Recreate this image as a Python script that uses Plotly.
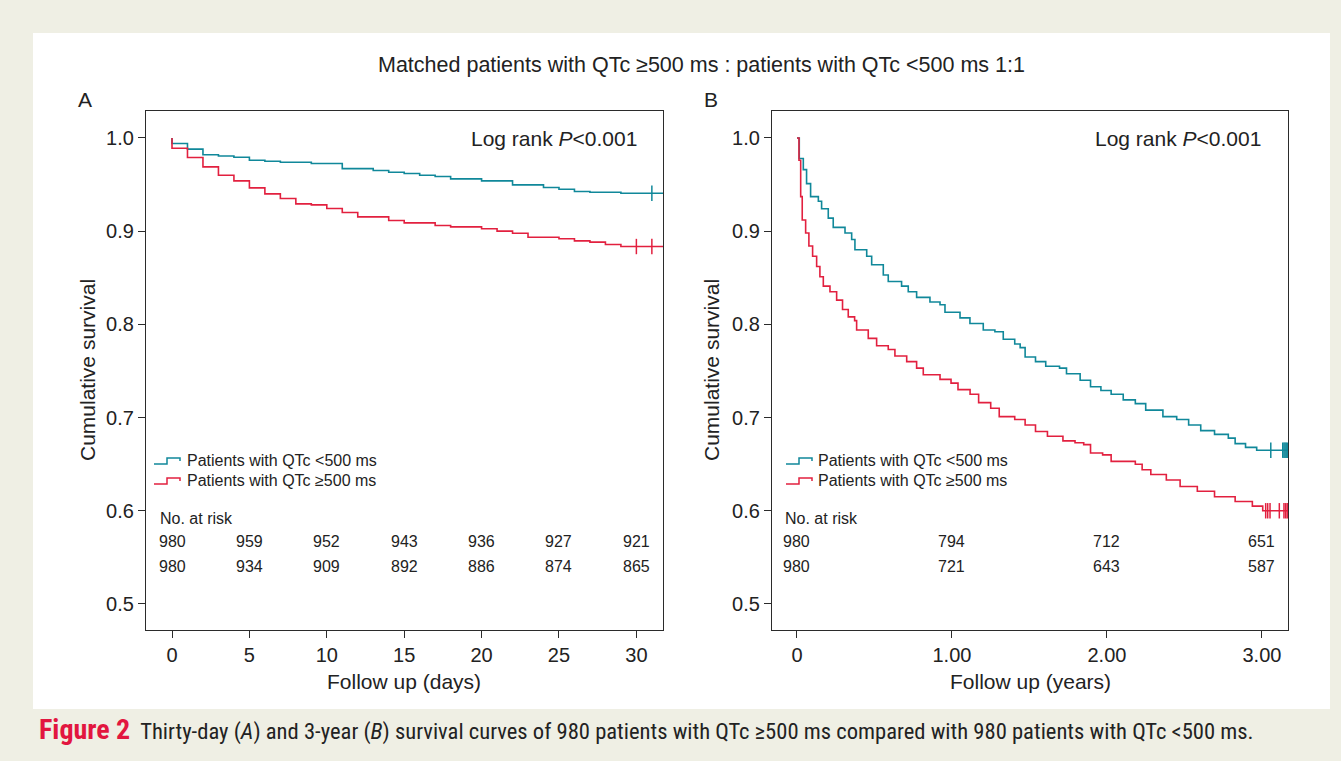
import plotly.graph_objects as go

# ---------------- data ----------------
# Panel A: 30-day Kaplan-Meier (days)
a_low_t = [0, 0, 1, 2, 3, 4, 5, 6, 7, 9, 11, 13, 14, 15, 16, 17, 18, 20, 22, 24, 25, 26, 27, 29, 32]
a_low_s = [1.0, 0.9940, 0.9880, 0.9820, 0.9807, 0.9793, 0.9761, 0.9750, 0.9739, 0.9725, 0.9671,
           0.9650, 0.9632, 0.9618, 0.9600, 0.9586, 0.9561, 0.9539, 0.9496, 0.9468, 0.9450,
           0.9425, 0.9418, 0.9407, 0.9407]
a_high_t = [0, 0, 1, 2, 3, 4, 5, 6, 7, 8, 9, 10, 11, 12, 14, 15, 17, 18, 20, 21, 22, 23, 25,
            26, 27, 28, 29, 32]
a_high_s = [1.0, 0.9890, 0.9790, 0.9690, 0.9600, 0.9539, 0.9464, 0.9400, 0.9350, 0.9293,
            0.9282, 0.9243, 0.9200, 0.9153, 0.9114, 0.9089, 0.9060, 0.9046, 0.9025, 0.9000,
            0.8978, 0.8935, 0.8918, 0.8896, 0.8882, 0.8857, 0.8835, 0.8835]
a_low_cens_t = [31]
a_high_cens_t = [30, 31]

# Panel B: 3-year Kaplan-Meier (years)
b_low_t = [0.000, 0.015, 0.041, 0.062, 0.088, 0.138, 0.159, 0.202, 0.234, 0.310, 0.353, 0.374,
           0.450, 0.482, 0.557, 0.589, 0.675, 0.718, 0.772, 0.858, 0.923, 0.955, 1.052, 1.116,
           1.202, 1.277, 1.331, 1.405, 1.440, 1.472, 1.539, 1.605, 1.694, 1.739, 1.827, 1.894,
           1.961, 2.027, 2.105, 2.183, 2.250, 2.361, 2.450, 2.527, 2.605, 2.694, 2.783, 2.827,
           2.894, 2.966, 3.200]
b_low_s = [1.000, 0.978, 0.966, 0.951, 0.937, 0.932, 0.924, 0.914, 0.904, 0.898, 0.891, 0.880,
           0.873, 0.864, 0.853, 0.846, 0.841, 0.835, 0.829, 0.824, 0.821, 0.813, 0.807, 0.801,
           0.794, 0.792, 0.784, 0.779, 0.775, 0.765, 0.760, 0.755, 0.753, 0.747, 0.740, 0.733,
           0.729, 0.725, 0.719, 0.715, 0.708, 0.701, 0.698, 0.692, 0.686, 0.682, 0.678, 0.672,
           0.668, 0.665, 0.665]
b_high_t = [0.000, 0.013, 0.024, 0.034, 0.056, 0.077, 0.101, 0.127, 0.148, 0.170, 0.213, 0.256,
            0.294, 0.331, 0.372, 0.385, 0.460, 0.514, 0.589, 0.632, 0.708, 0.772, 0.815, 0.923,
            0.994, 1.039, 1.117, 1.172, 1.250, 1.305, 1.405, 1.472, 1.539, 1.616, 1.716, 1.794,
            1.850, 1.894, 1.972, 2.027, 2.183, 2.227, 2.283, 2.383, 2.472, 2.583, 2.694, 2.827,
            2.938, 3.005, 3.200]
b_high_s = [1.000, 0.976, 0.937, 0.912, 0.898, 0.884, 0.873, 0.862, 0.851, 0.841, 0.835, 0.826,
            0.816, 0.808, 0.804, 0.794, 0.785, 0.777, 0.773, 0.766, 0.760, 0.753, 0.746, 0.741,
            0.737, 0.730, 0.725, 0.716, 0.710, 0.701, 0.698, 0.692, 0.685, 0.680, 0.675, 0.673,
            0.671, 0.662, 0.660, 0.653, 0.650, 0.644, 0.639, 0.633, 0.626, 0.621, 0.615, 0.610,
            0.605, 0.600, 0.600]
b_low_cens_t = [3.057, 3.134, 3.142, 3.149, 3.156, 3.163]
b_high_cens_t = [3.024, 3.037, 3.052, 3.112, 3.142, 3.153, 3.163]

a_risk_t = [0, 5, 10, 15, 20, 25, 30]
a_risk_low = [980, 959, 952, 943, 936, 927, 921]
a_risk_high = [980, 934, 909, 892, 886, 874, 865]
b_risk_t = [0, 1, 2, 3]
b_risk_low = [980, 794, 712, 651]
b_risk_high = [980, 721, 643, 587]

a_xticks = [0, 5, 10, 15, 20, 25, 30]
b_xticks = [0, 1, 2, 3]
b_xticklabels = ["0", "1.00", "2.00", "3.00"]
yticks = [0.5, 0.6, 0.7, 0.8, 0.9, 1.0]

label_low = "Patients with QTc <500 ms"
label_high = "Patients with QTc ≥500 ms"
title_text = "Matched patients with QTc ≥500 ms : patients with QTc <500 ms 1:1"

# ---------------- style ----------------
W, H = 1341, 761
TEAL = "#10889a"
RED = "#e2203f"
TXT = "#222222"
FRAME = "#2b2b2b"
FONT = "Liberation Sans, Arial, Helvetica, sans-serif"
NARROW = "Roboto Condensed, Liberation Sans Narrow, Arial Narrow, sans-serif"


def px(x):
    return x / W


def py(y):
    return 1 - y / H


fig = go.Figure()

for xa, ya, t, s, col in [
    ("x", "y", a_low_t, a_low_s, TEAL), ("x", "y", a_high_t, a_high_s, RED),
    ("x2", "y2", b_low_t, b_low_s, TEAL), ("x2", "y2", b_high_t, b_high_s, RED),
]:
    fig.add_trace(go.Scatter(x=t, y=s, mode="lines", line=dict(color=col, width=1.6, shape="hv"),
                             xaxis=xa, yaxis=ya, showlegend=False, hoverinfo="skip"))


def level_at(times, surv, tc):
    v = surv[0]
    for ti, si in zip(times, surv):
        if ti <= tc:
            v = si
    return v


for xa, ya, ct, t, s, col in [
    ("x", "y", a_low_cens_t, a_low_t, a_low_s, TEAL),
    ("x", "y", a_high_cens_t, a_high_t, a_high_s, RED),
    ("x2", "y2", b_low_cens_t, b_low_t, b_low_s, TEAL),
    ("x2", "y2", b_high_cens_t, b_high_t, b_high_s, RED),
]:
    fig.add_trace(go.Scatter(x=ct, y=[level_at(t, s, c) for c in ct], mode="markers",
                             marker=dict(symbol="line-ns", size=11, line=dict(color=col, width=1.5)),
                             xaxis=xa, yaxis=ya, showlegend=False, hoverinfo="skip", cliponaxis=False))

ydom = [py(630), py(111)]
axis_common = dict(showline=True, mirror=True, linecolor=FRAME, linewidth=1.3, ticks="outside",
                   ticklen=7, tickwidth=1.2, tickcolor=FRAME, showgrid=False, zeroline=False,
                   tickfont=dict(family=FONT, size=20, color=TXT))

fig.update_layout(
    width=W, height=H, margin=dict(l=0, r=0, t=0, b=0),
    paper_bgcolor="#efefe4", plot_bgcolor="white",
    xaxis=dict(domain=[px(146), px(663)], range=[-1.68, 31.72], tickvals=a_xticks, anchor="y",
               **axis_common),
    yaxis=dict(domain=ydom, range=[0.4721, 1.0289], tickvals=yticks, tickformat=".1f",
               anchor="x", **axis_common),
    xaxis2=dict(domain=[px(772), px(1288)], range=[-0.161, 3.168], tickvals=b_xticks,
                ticktext=b_xticklabels, anchor="y2", **axis_common),
    yaxis2=dict(domain=ydom, range=[0.4721, 1.0289], tickvals=yticks, tickformat=".1f",
                anchor="x2", **axis_common),
)

shapes = [dict(type="rect", xref="paper", yref="paper", x0=px(33), x1=px(1330), y0=py(709),
               y1=py(33), fillcolor="white", line=dict(width=0), layer="below")]


def glyph(x0, ylow, col):
    xm, x1 = x0 + 13, x0 + 26
    yh = ylow - 6
    ye = ylow - 3
    path = (f"M {px(x0)},{py(ylow)} L {px(xm)},{py(ylow)} L {px(xm)},{py(yh)} "
            f"L {px(x1)},{py(yh)} L {px(x1)},{py(ye)}")
    return dict(type="path", xref="paper", yref="paper", path=path,
                line=dict(color=col, width=1.5))


for gx in (154, 786):
    shapes.append(glyph(gx, 464, TEAL))
    shapes.append(glyph(gx, 484, RED))
fig.update_layout(shapes=shapes)

ann = []


def txt(x, y, s, size, xanchor="center", xref="paper", angle=0, color=TXT, fam=FONT):
    ann.append(dict(x=x, y=y, xref=xref, yref="paper", text=s, showarrow=False,
                    xanchor=xanchor, yanchor="middle", textangle=angle,
                    font=dict(family=fam, size=size, color=color)))


txt(px(701), py(65), title_text, 21.5)
txt(px(85), py(99), "A", 21)
txt(px(711), py(99), "B", 21)
txt(px(639), py(138), "Log rank <i>P</i>&lt;0.001", 21, xanchor="right")
txt(px(1263), py(138), "Log rank <i>P</i>&lt;0.001", 21, xanchor="right")
txt(px(87), py(370), "Cumulative survival", 21, angle=-90)
txt(px(711), py(370), "Cumulative survival", 21, angle=-90)
txt(px(404), py(681), "Follow up (days)", 21)
txt(px(1030), py(681), "Follow up (years)", 21)

for lx, nx in ((185, 158), (816, 783)):
    txt(px(lx), py(461), label_low, 16, xanchor="left")
    txt(px(lx), py(481), label_high, 16, xanchor="left")
    txt(px(nx), py(518), "No. at risk", 16, xanchor="left")

for xr, rt, rl, rh in (("x", a_risk_t, a_risk_low, a_risk_high),
                       ("x2", b_risk_t, b_risk_low, b_risk_high)):
    for t, lo, hi in zip(rt, rl, rh):
        txt(t, py(541), str(lo), 16, xref=xr)
        txt(t, py(566), str(hi), 16, xref=xr)

caption = ("<span style='color:#e2163f;font-size:28px'><b>Figure 2</b></span>&nbsp; Thirty-day (<i>A</i>) "
           "and 3-year (<i>B</i>) survival curves of 980 patients with QTc ≥500 ms compared with 980 "
           "patients with QTc &lt;500 ms.")
txt(px(37), py(729), caption, 22.6, xanchor="left", fam=NARROW)

fig.update_layout(annotations=ann)
fig.write_html("out.html", config={"displayModeBar": False},
               post_script="document.body.style.margin='0px';document.body.style.overflow='hidden';")
